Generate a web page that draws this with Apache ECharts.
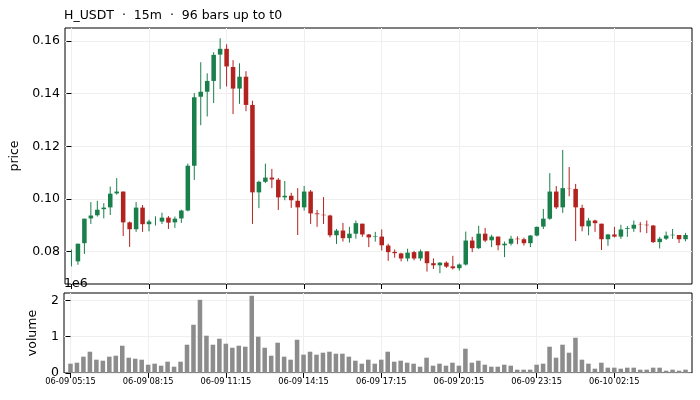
<!DOCTYPE html>
<html>
<head>
<meta charset="utf-8">
<script src="https://cdn.jsdelivr.net/npm/echarts@6/dist/echarts.min.js"></script>
<style>
  html, body { margin: 0; padding: 0; background: #fff; }
  #main { width: 700px; height: 400px; }
</style>
</head>
<body>
<div id="main"></div>
<script>
// 15m bars, index 0 = 06-09 05:15
const TICK_IDX = [0, 12, 24, 36, 48, 60, 72, 84];
const TICK_LABELS = ['06-09 05:15', '06-09 08:15', '06-09 11:15', '06-09 14:15',
  '06-09 17:15', '06-09 20:15', '06-09 23:15', '06-10 02:15'];
const PRICE_TICKS = [0.08, 0.10, 0.12, 0.14, 0.16];
const VOLUME_TICKS = [0, 1000000, 2000000];

const OPEN = [
  0.0763, 0.0763, 0.0832, 0.0926, 0.0938, 0.0961, 0.0968, 0.1021, 0.1028, 0.0911, 0.0885, 0.0967,
  0.0904, 0.0914, 0.0914, 0.0929, 0.0911, 0.0926, 0.0956, 0.1126, 0.1388, 0.1407, 0.1448, 0.1548,
  0.1570, 0.1501, 0.1419, 0.1464, 0.1357, 0.1025, 0.1065, 0.1081, 0.1073, 0.1006, 0.1012, 0.0993,
  0.0968, 0.1028, 0.0945, 0.0940, 0.0937, 0.0862, 0.0880, 0.0851, 0.0868, 0.0906, 0.0865, 0.0856,
  0.0857, 0.0823, 0.0799, 0.0793, 0.0774, 0.0798, 0.0774, 0.0801, 0.0756, 0.0748, 0.0758, 0.0744,
  0.0737, 0.0751, 0.0842, 0.0813, 0.0868, 0.0843, 0.0857, 0.0824, 0.0830, 0.0849, 0.0847, 0.0832,
  0.0861, 0.0895, 0.0925, 0.1028, 0.0968, 0.1041, 0.1038, 0.0966, 0.0896, 0.0918, 0.0906, 0.0847,
  0.0865, 0.0857, 0.0886, 0.0887, 0.0902, 0.0902, 0.0899, 0.0836, 0.0849, 0.0862, 0.0863, 0.0847
];
const CLOSE = [
  0.0763, 0.0830, 0.0925, 0.0937, 0.0959, 0.0967, 0.1020, 0.1028, 0.0911, 0.0885, 0.0967, 0.0904,
  0.0914, 0.0914, 0.0929, 0.0910, 0.0925, 0.0956, 0.1126, 0.1386, 0.1407, 0.1448, 0.1547, 0.1570,
  0.1503, 0.1419, 0.1464, 0.1357, 0.1025, 0.1065, 0.1081, 0.1074, 0.1006, 0.1012, 0.0995, 0.0968,
  0.1028, 0.0945, 0.0942, 0.0938, 0.0862, 0.0880, 0.0851, 0.0868, 0.0908, 0.0865, 0.0854, 0.0858,
  0.0824, 0.0798, 0.0794, 0.0774, 0.0796, 0.0774, 0.0801, 0.0756, 0.0748, 0.0758, 0.0743, 0.0737,
  0.0751, 0.0842, 0.0813, 0.0868, 0.0842, 0.0857, 0.0824, 0.0830, 0.0849, 0.0847, 0.0832, 0.0861,
  0.0894, 0.0925, 0.1028, 0.0968, 0.1041, 0.1040, 0.0968, 0.0896, 0.0918, 0.0908, 0.0847, 0.0865,
  0.0857, 0.0884, 0.0889, 0.0902, 0.0901, 0.0900, 0.0836, 0.0849, 0.0861, 0.0864, 0.0847, 0.0863
];
const LOW = [
  0.0744, 0.0750, 0.0791, 0.0905, 0.0933, 0.0926, 0.0939, 0.1016, 0.0859, 0.0818, 0.0875, 0.0875,
  0.0877, 0.0899, 0.0905, 0.0886, 0.0890, 0.0909, 0.0953, 0.1072, 0.1280, 0.1313, 0.1364, 0.1417,
  0.1427, 0.1322, 0.1361, 0.1333, 0.0905, 0.0965, 0.1060, 0.1041, 0.0958, 0.0995, 0.0966, 0.0863,
  0.0956, 0.0905, 0.0894, 0.0905, 0.0854, 0.0829, 0.0838, 0.0834, 0.0849, 0.0856, 0.0817, 0.0838,
  0.0804, 0.0765, 0.0777, 0.0763, 0.0763, 0.0767, 0.0765, 0.0724, 0.0734, 0.0718, 0.0738, 0.0732,
  0.0728, 0.0747, 0.0798, 0.0810, 0.0836, 0.0817, 0.0805, 0.0779, 0.0823, 0.0828, 0.0823, 0.0817,
  0.0858, 0.0886, 0.0921, 0.0962, 0.0947, 0.1010, 0.0840, 0.0877, 0.0862, 0.0875, 0.0806, 0.0822,
  0.0854, 0.0848, 0.0856, 0.0875, 0.0873, 0.0870, 0.0833, 0.0812, 0.0844, 0.0848, 0.0833, 0.0839
];
const HIGH = [
  0.0808, 0.0830, 0.0925, 0.0988, 0.0993, 0.0984, 0.1047, 0.1079, 0.1028, 0.0914, 0.0988, 0.0977,
  0.0921, 0.0934, 0.0948, 0.0935, 0.0933, 0.0959, 0.1134, 0.1402, 0.1519, 0.1477, 0.1557, 0.1610,
  0.1587, 0.1527, 0.1515, 0.1485, 0.1373, 0.1069, 0.1134, 0.1114, 0.1079, 0.1068, 0.1023, 0.1041,
  0.1049, 0.1034, 0.0958, 0.1007, 0.0940, 0.0886, 0.0909, 0.0894, 0.0918, 0.0906, 0.0867, 0.0875,
  0.0884, 0.0830, 0.0808, 0.0796, 0.0811, 0.0803, 0.0808, 0.0801, 0.0774, 0.0760, 0.0763, 0.0784,
  0.0755, 0.0876, 0.0856, 0.0898, 0.0890, 0.0864, 0.0857, 0.0838, 0.0860, 0.0858, 0.0853, 0.0863,
  0.0895, 0.0962, 0.1098, 0.1049, 0.1186, 0.1121, 0.1057, 0.0978, 0.0928, 0.0921, 0.0906, 0.0867,
  0.0894, 0.0902, 0.0897, 0.0918, 0.0912, 0.0918, 0.0901, 0.0856, 0.0876, 0.0886, 0.0863, 0.0871
];
const VOLUME = [
  257000, 284000, 450000, 587000, 367000, 339000, 450000, 477000, 752000, 422000, 394000, 367000,
  229000, 257000, 202000, 312000, 174000, 312000, 780000, 1330000, 2018000, 1028000, 780000, 945000,
  807000, 697000, 752000, 725000, 2128000, 1000000, 697000, 477000, 835000, 450000, 367000, 917000,
  505000, 587000, 505000, 560000, 587000, 532000, 532000, 450000, 339000, 257000, 367000, 257000,
  367000, 587000, 312000, 339000, 284000, 257000, 174000, 422000, 202000, 257000, 202000, 284000,
  202000, 670000, 284000, 339000, 229000, 174000, 174000, 229000, 202000, 92000, 92000, 92000,
  229000, 257000, 725000, 422000, 780000, 560000, 972000, 367000, 257000, 119000, 284000, 147000,
  147000, 119000, 147000, 147000, 92000, 92000, 147000, 147000, 64000, 92000, 64000, 92000
];

const UP = '#1a7f4b';
const DOWN = '#b2221f';
const FONT = 'DejaVu Sans';

const chart = echarts.init(document.getElementById('main'));

const candleData = OPEN.map((o, i) => [i, o, CLOSE[i], LOW[i], HIGH[i]]);
const volumeData = VOLUME.map((v, i) => [i, v]);

function renderCandle(params, api) {
  const x = api.value(0);
  const o = api.value(1), c = api.value(2);
  const hi = api.coord([x, api.value(4)]);
  const lo = api.coord([x, api.value(3)]);
  const top = api.coord([x, Math.max(o, c)]);
  const bot = api.coord([x, Math.min(o, c)]);
  const w = api.size([0.7, 0])[0];
  const color = c >= o ? UP : DOWN;
  return {
    type: 'group',
    children: [
      { type: 'line', shape: { x1: hi[0], y1: hi[1], x2: lo[0], y2: lo[1] },
        style: { stroke: color, lineWidth: 1 } },
      { type: 'rect', shape: { x: top[0] - w / 2, y: top[1], width: w, height: bot[1] - top[1] },
        style: { fill: color } }
    ]
  };
}

function renderVolume(params, api) {
  const x = api.value(0);
  const p1 = api.coord([x, api.value(1)]);
  const p0 = api.coord([x, 0]);
  const w = api.size([0.7, 0])[0];
  return {
    type: 'rect',
    shape: { x: p1[0] - w / 2, y: p1[1], width: w, height: p0[1] - p1[1] },
    style: { fill: '#8c8c8c' }
  };
}

const tickStyle = { show: true, length: 5, inside: false, lineStyle: { color: '#000', width: 1 } };
const gridLine = { show: true, lineStyle: { color: '#efefef', width: 1 } };

chart.setOption({
  animation: false,
  backgroundColor: '#fff',
  textStyle: { fontFamily: FONT },
  title: {
    text: 'H_USDT  ·  15m  ·  96 bars up to t0',
    left: 64,
    top: 9,
    padding: 0,
    textStyle: { fontFamily: FONT, fontSize: 12.5, fontWeight: 'normal', color: '#000' }
  },
  grid: [
    { left: 64, top: 28, width: 628, height: 256, show: true, borderColor: '#000', borderWidth: 1 },
    { left: 64, top: 293, width: 628, height: 80, show: true, borderColor: '#000', borderWidth: 1 }
  ],
  xAxis: [
    {
      type: 'value', gridIndex: 0, min: -1, max: 96,
      axisLine: { show: false },
      axisTick: Object.assign({ customValues: TICK_IDX }, tickStyle),
      axisLabel: { show: false, customValues: TICK_IDX },
      splitLine: gridLine
    },
    {
      type: 'value', gridIndex: 1, min: -1, max: 96,
      axisLine: { show: false },
      axisTick: Object.assign({ customValues: TICK_IDX }, tickStyle),
      axisLabel: {
        customValues: TICK_IDX, margin: 5, color: '#000', fontFamily: FONT, fontSize: 8.3,
        formatter: v => TICK_LABELS[TICK_IDX.indexOf(v)]
      },
      splitLine: gridLine
    }
  ],
  yAxis: [
    {
      type: 'value', gridIndex: 0, min: 0.0677, max: 0.1649,
      name: 'price', nameLocation: 'middle', nameGap: 44,
      nameTextStyle: { color: '#000', fontFamily: FONT, fontSize: 12.5 },
      axisLine: { show: false },
      axisTick: Object.assign({ customValues: PRICE_TICKS }, tickStyle),
      axisLabel: {
        customValues: PRICE_TICKS, margin: 5, color: '#000', fontFamily: FONT, fontSize: 12.5,
        formatter: v => v.toFixed(2)
      },
      splitLine: gridLine
    },
    {
      type: 'value', gridIndex: 1, min: 0, max: 2205000,
      name: 'volume', nameLocation: 'middle', nameGap: 25,
      nameTextStyle: { color: '#000', fontFamily: FONT, fontSize: 12.5 },
      axisLine: { show: false },
      axisTick: Object.assign({ customValues: VOLUME_TICKS }, tickStyle),
      axisLabel: {
        customValues: VOLUME_TICKS, margin: 5, color: '#000', fontFamily: FONT, fontSize: 12.5,
        formatter: v => String(Math.round(v / 1000000))
      },
      splitLine: gridLine
    }
  ],
  graphic: [
    { type: 'text', left: 64, top: 277, z: 100,
      style: { text: '1e6', fill: '#000', font: '12.5px "DejaVu Sans"' } }
  ],
  series: [
    {
      type: 'custom', name: 'price', xAxisIndex: 0, yAxisIndex: 0,
      renderItem: renderCandle, data: candleData,
      encode: { x: 0, y: [1, 2, 3, 4] }
    },
    {
      type: 'custom', name: 'volume', xAxisIndex: 1, yAxisIndex: 1,
      renderItem: renderVolume, data: volumeData,
      encode: { x: 0, y: 1 }
    }
  ]
});
</script>
</body>
</html>
